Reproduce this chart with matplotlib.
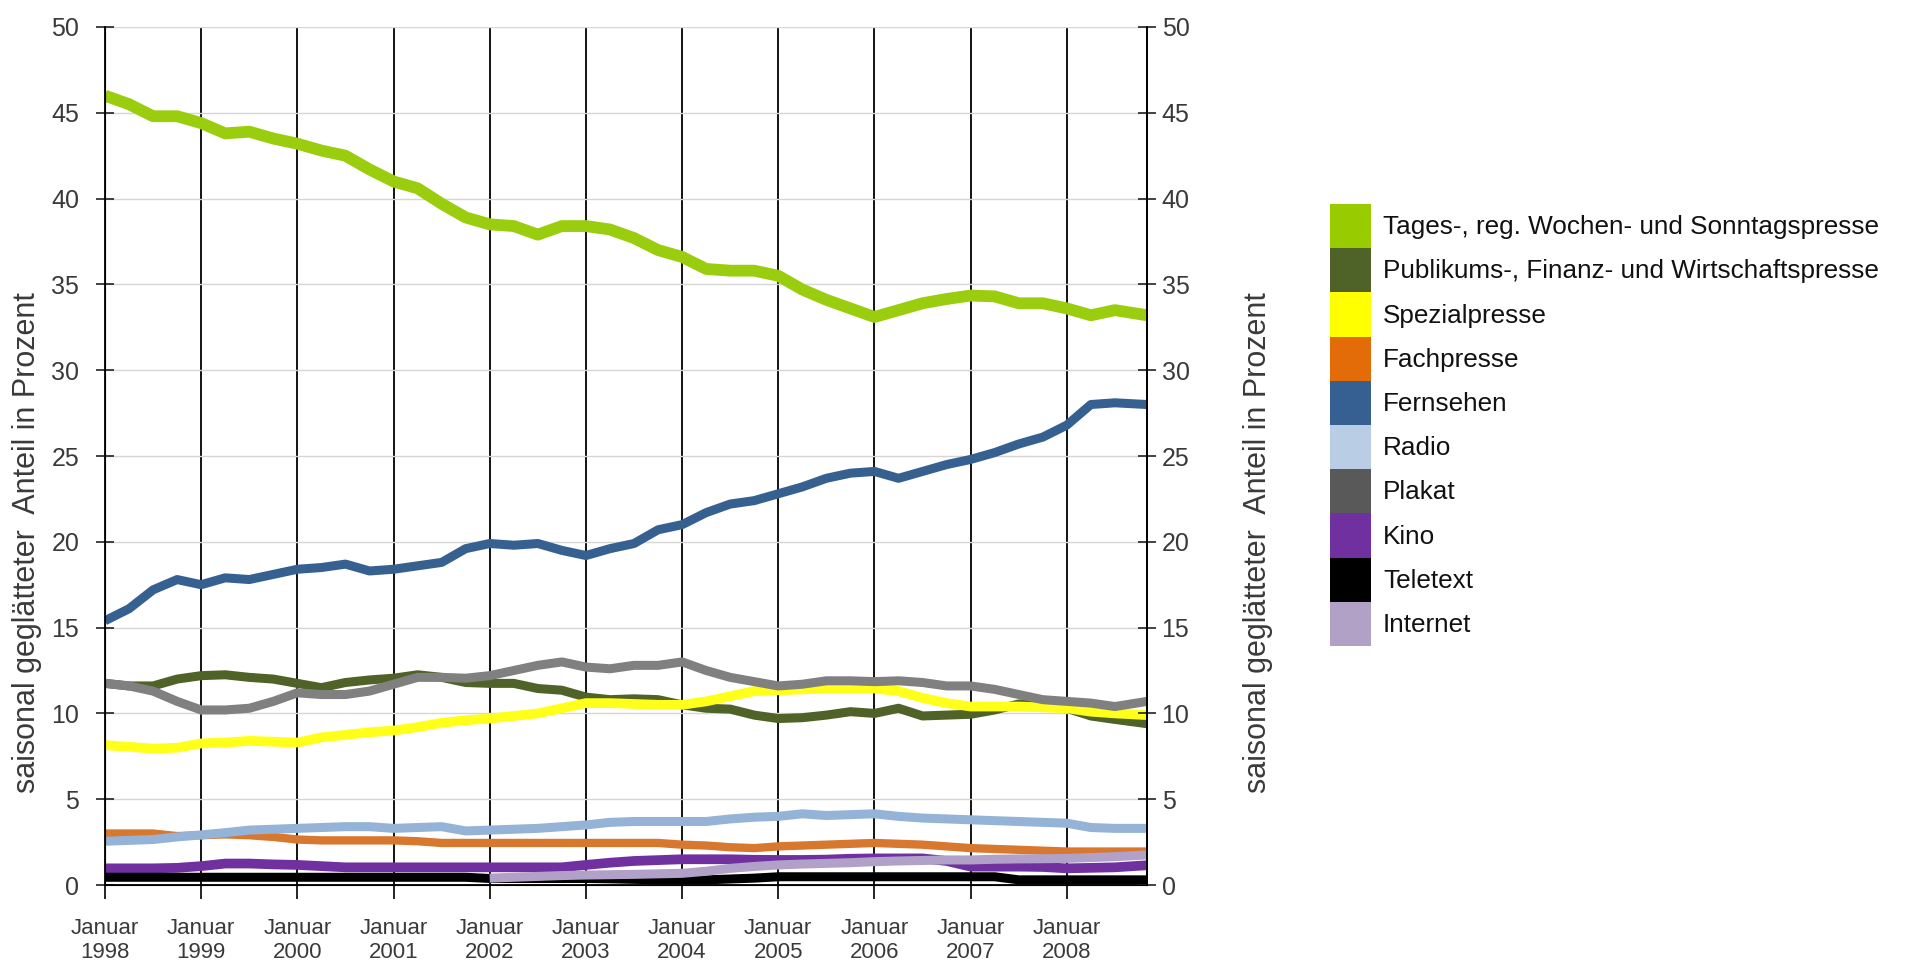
import numpy as np
import matplotlib
matplotlib.use('Agg')
from matplotlib import pyplot as plt
from matplotlib import font_manager
from matplotlib.patches import Rectangle

# months since January 1998 (quarterly readings, last one = end of chart)
months = list(range(0, 129, 3)) + [130]

tages = [46.0, 45.5, 44.8, 44.8, 44.4, 43.8, 43.9, 43.5, 43.2, 42.8, 42.5, 41.7,
         41.0, 40.6, 39.7, 38.9, 38.5, 38.4, 37.9, 38.4, 38.4, 38.2, 37.7, 37.0,
         36.6, 35.9, 35.8, 35.8, 35.5, 34.7, 34.1, 33.6, 33.1, 33.5, 33.9, 34.15,
         34.35, 34.3, 33.9, 33.9, 33.6, 33.2, 33.5, 33.2]
publikum = [11.75, 11.6, 11.6, 12.0, 12.2, 12.25, 12.1, 12.0, 11.75, 11.5, 11.8, 11.95,
            12.05, 12.25, 12.1, 11.8, 11.75, 11.75, 11.45, 11.35, 10.95, 10.8, 10.85, 10.8,
            10.5, 10.3, 10.25, 9.9, 9.7, 9.75, 9.9, 10.1, 10.0, 10.3, 9.85, 9.9,
            9.95, 10.2, 10.55, 10.55, 10.3, 9.85, 9.65, 9.4]
spezial = [8.15, 8.05, 7.95, 8.0, 8.25, 8.3, 8.4, 8.35, 8.3, 8.6, 8.75, 8.9,
           9.0, 9.2, 9.45, 9.6, 9.7, 9.85, 10.0, 10.3, 10.6, 10.6, 10.55, 10.5,
           10.5, 10.7, 11.0, 11.3, 11.35, 11.4, 11.45, 11.45, 11.45, 11.3, 10.9, 10.6,
           10.4, 10.4, 10.4, 10.35, 10.3, 10.1, 10.0, 9.9]
fach = [3.0, 3.0, 3.0, 2.85, 2.9, 2.95, 2.9, 2.8, 2.65, 2.6, 2.6, 2.6,
        2.6, 2.55, 2.45, 2.45, 2.45, 2.45, 2.45, 2.45, 2.45, 2.45, 2.45, 2.45,
        2.35, 2.3, 2.2, 2.15, 2.25, 2.3, 2.35, 2.4, 2.45, 2.4, 2.35, 2.25,
        2.15, 2.1, 2.05, 2.0, 1.95, 1.95, 1.95, 1.95]
fernsehen = [15.4, 16.1, 17.2, 17.8, 17.5, 17.9, 17.8, 18.1, 18.4, 18.5, 18.7, 18.3,
             18.4, 18.6, 18.8, 19.6, 19.9, 19.8, 19.9, 19.5, 19.2, 19.6, 19.9, 20.7,
             21.0, 21.7, 22.2, 22.4, 22.8, 23.2, 23.7, 24.0, 24.1, 23.7, 24.1, 24.5,
             24.8, 25.2, 25.7, 26.1, 26.8, 28.0, 28.1, 28.0]
radio = [2.55, 2.6, 2.65, 2.8, 2.92, 3.05, 3.2, 3.25, 3.3, 3.35, 3.4, 3.4,
         3.3, 3.35, 3.4, 3.15, 3.2, 3.25, 3.3, 3.4, 3.5, 3.65, 3.7, 3.7,
         3.7, 3.7, 3.85, 3.95, 4.0, 4.15, 4.05, 4.1, 4.15, 4.0, 3.9, 3.85,
         3.8, 3.75, 3.7, 3.65, 3.6, 3.35, 3.3, 3.3]
plakat = [11.75, 11.6, 11.3, 10.7, 10.2, 10.2, 10.3, 10.7, 11.2, 11.1, 11.1, 11.3,
          11.7, 12.1, 12.1, 12.05, 12.2, 12.5, 12.8, 13.0, 12.7, 12.6, 12.8, 12.8,
          13.0, 12.5, 12.1, 11.85, 11.6, 11.7, 11.9, 11.9, 11.85, 11.9, 11.8, 11.6,
          11.6, 11.4, 11.1, 10.8, 10.7, 10.6, 10.4, 10.7]
kino = [0.97, 0.97, 0.97, 1.0, 1.1, 1.25, 1.25, 1.2, 1.17, 1.1, 1.03, 1.03,
        1.03, 1.03, 1.03, 1.03, 1.03, 1.03, 1.03, 1.03, 1.17, 1.3, 1.4, 1.45,
        1.5, 1.5, 1.5, 1.47, 1.46, 1.46, 1.48, 1.53, 1.55, 1.55, 1.55, 1.4,
        1.07, 1.07, 1.07, 1.05, 0.97, 1.0, 1.03, 1.15]
teletext = [0.45, 0.45, 0.45, 0.45, 0.45, 0.45, 0.45, 0.45, 0.45, 0.45, 0.45, 0.45,
            0.45, 0.45, 0.45, 0.45, 0.38, 0.38, 0.38, 0.38, 0.38, 0.36, 0.33, 0.3,
            0.3, 0.3, 0.35, 0.4, 0.48, 0.48, 0.48, 0.48, 0.48, 0.48, 0.48, 0.48,
            0.48, 0.48, 0.3, 0.3, 0.3, 0.3, 0.3, 0.3]
internet = [np.nan] * 16 + [0.4, 0.45, 0.5, 0.55, 0.58, 0.6, 0.62, 0.65,
            0.68, 0.8, 0.97, 1.08, 1.17, 1.22, 1.26, 1.3, 1.36, 1.4, 1.43, 1.46,
            1.46, 1.5, 1.52, 1.53, 1.55, 1.6, 1.65, 1.75]

labels = ['Tages-, reg. Wochen- und Sonntagspresse',
          'Publikums-, Finanz- und Wirtschaftspresse',
          'Spezialpresse', 'Fachpresse', 'Fernsehen', 'Radio', 'Plakat',
          'Kino', 'Teletext', 'Internet']
series = [tages, publikum, spezial, fach, fernsehen, radio, plakat, kino, teletext, internet]
line_colors = ['#9acd0e', '#4f6228', '#ffff1a', '#d8772e', '#36608f', '#95b3d7',
               '#808080', '#7030a0', '#000000', '#b1a0c7']
legend_colors = ['#99cc00', '#4f6228', '#ffff00', '#e36c09', '#366092', '#b9cde5',
                 '#595959', '#7030a0', '#000000', '#b2a1c7']
widths = [8.5, 6.5, 7, 6, 6.5, 6.5, 6.5, 7, 6.5, 6.5]

year_ticks = list(range(0, 121, 12))
year_labels = ['Januar\n%d' % y for y in range(1998, 2009)]
ylabel = 'saisonal geglätteter  Anteil in Prozent'

names = {f.name for f in font_manager.fontManager.ttflist}
narrow = 'Liberation Sans Narrow' if 'Liberation Sans Narrow' in names else 'Liberation Sans'
plt.rcParams['font.family'] = ['Liberation Sans', 'DejaVu Sans']
txt = '#3a3a3a'

W, H = 1905, 972
fig = plt.figure(figsize=(W / 100, H / 100), dpi=100)
ax = fig.add_axes([105 / W, 87 / H, 1042 / W, 858 / H])

for vals, col, lw in zip(series, line_colors, widths):
    ax.plot(months, vals, color=col, lw=lw, solid_capstyle='butt', solid_joinstyle='round')

ax.set_xlim(0, 130)
ax.set_ylim(0, 50)
ax.set_yticks(range(0, 51, 5))
ax.set_xticks(year_ticks)
ax.set_xticklabels(year_labels, family=narrow, fontsize=16, color=txt, linespacing=1.15)
ax.set_yticklabels([str(v) for v in range(0, 51, 5)], family=narrow, fontsize=18, color=txt)
ax.tick_params(axis='y', direction='inout', length=13, width=1.2, color='#222222', pad=12)
ax.tick_params(axis='x', direction='out', length=10, width=1.2, color='black', pad=14)
ax.grid(axis='y', color='#d6d6d6', lw=1)
ax.grid(axis='x', color='black', lw=1.3)
ax.set_axisbelow(True)
ax.spines['top'].set_visible(False)
for s in ['left', 'right', 'bottom']:
    ax.spines[s].set_color('black')
    ax.spines[s].set_linewidth(1.3)

ax2 = ax.twinx()
ax2.set_ylim(0, 50)
ax2.set_yticks(range(0, 51, 5))
ax2.set_yticklabels([str(v) for v in range(0, 51, 5)], family=narrow, fontsize=18, color=txt)
ax2.tick_params(axis='y', direction='inout', length=13, width=1.2, color='#222222', pad=4)
ax2.spines['top'].set_visible(False)
ax2.spines['right'].set_linewidth(1.3)

fig.text(27 / W, 1 - 543 / H, ylabel, rotation=90, ha='center', va='center',
         fontsize=22, color=txt)
fig.text(1258 / W, 1 - 543 / H, ylabel, rotation=90, ha='center', va='center',
         fontsize=22, color=txt)

# legend: contiguous colour blocks with labels
row_h = 44.2
top = 204
for i, (lab, col) in enumerate(zip(labels, legend_colors)):
    y0 = top + i * row_h
    fig.patches.append(Rectangle((1330 / W, 1 - (y0 + row_h) / H), 41 / W, row_h / H,
                                 transform=fig.transFigure, facecolor=col, edgecolor='none'))
    fig.text(1383 / W, 1 - (y0 + row_h / 2 + 1) / H, lab, ha='left', va='center',
             fontsize=18.8, color='#111111')

fig.savefig('out.png', dpi=100)
